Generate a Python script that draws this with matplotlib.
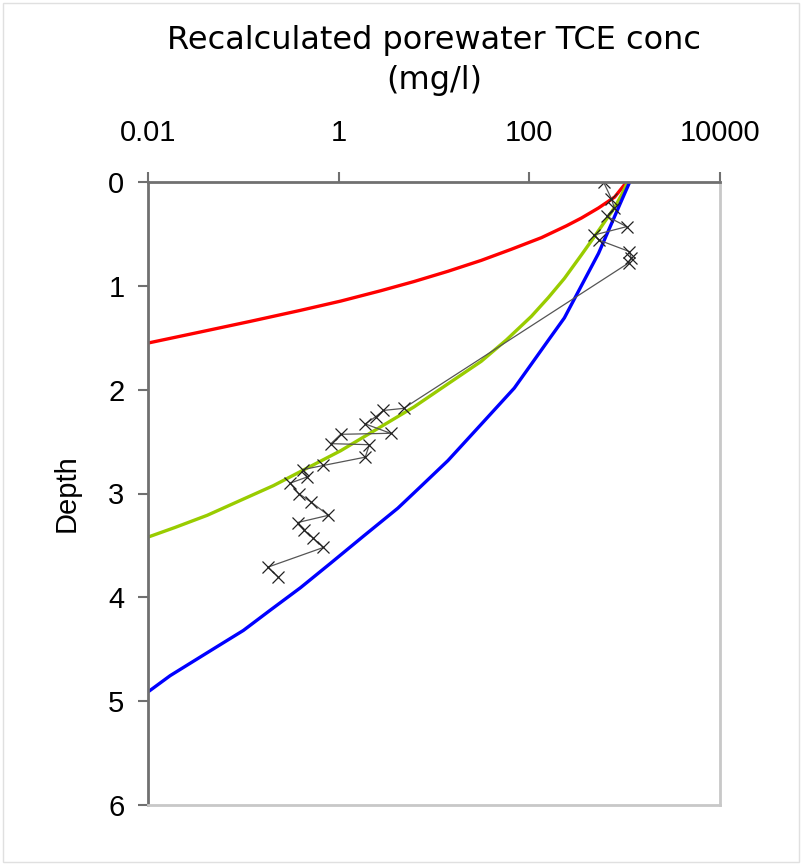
import numpy as np
import matplotlib
matplotlib.use('Agg')
import matplotlib.pyplot as plt

plt.rcParams['font.family'] = ['Liberation Sans', 'DejaVu Sans']

# model curves (concentration mg/l, depth)
red_conc = [1050, 785, 532, 352, 245, 134, 64.7, 31.3, 14.0, 6.15, 2.77, 1.05,
            0.398, 0.1186, 0.0352, 0.01]
red_depth = [0, 0.145, 0.250, 0.347, 0.422, 0.536, 0.648, 0.755, 0.860, 0.959, 1.047, 1.147,
             1.236, 1.342, 1.445, 1.551]

green_conc = [1076, 929, 785, 631, 483, 352, 233, 158, 105, 57.3, 31.3, 14.0, 6.15,
              2.77, 1.05, 0.472, 0.207, 0.0929, 0.0418, 0.0192, 0.01]
green_depth = [0, 0.123, 0.245, 0.370, 0.524, 0.702, 0.929, 1.114, 1.294, 1.522, 1.727,
               1.944, 2.167, 2.357, 2.588, 2.753, 2.924, 3.067, 3.210, 3.327, 3.42]

blue_conc = [1130, 929, 729, 532, 352, 233, 158, 105, 69.5, 31.3, 14.0, 7.29, 4.18,
             1.83, 0.824, 0.398, 0.192, 0.1, 0.0532, 0.0277, 0.0171, 0.01]
blue_depth = [0, 0.177, 0.399, 0.687, 0.998, 1.309, 1.525, 1.754, 1.985, 2.333, 2.683,
              2.931, 3.141, 3.409, 3.671, 3.907, 4.123, 4.319, 4.474, 4.635, 4.754,
              4.911]

# measured porewater data
obs_conc = [600, 725, 780, 650, 1050, 480, 540, 1120, 1170, 1100,
            4.8, 2.95, 2.45, 1.9, 3.5, 1.05, 0.83, 2.1, 1.9, 0.69,
            0.42, 0.47, 0.31, 0.38, 0.51, 0.78, 0.37, 0.43, 0.54, 0.69,
            0.18, 0.23]
obs_depth = [0, 0.16, 0.25, 0.33, 0.43, 0.51, 0.56, 0.67, 0.73, 0.78,
             2.18, 2.20, 2.26, 2.33, 2.42, 2.43, 2.52, 2.53, 2.65, 2.73,
             2.77, 2.84, 2.90, 3.00, 3.08, 3.21, 3.28, 3.35, 3.43, 3.52,
             3.71, 3.80]

fig = plt.figure(figsize=(8.02, 8.65), dpi=100)
ax = fig.add_axes([148/802, 1-805/865, (720-148)/802, (805-182)/865])

ax.plot(red_conc, red_depth, color='#ff0000', linewidth=2.4)
ax.plot(green_conc, green_depth, color='#99cc00', linewidth=2.4)
ax.plot(blue_conc, blue_depth, color='#0000ff', linewidth=2.4)
ax.plot(obs_conc, obs_depth, color='#555555', linewidth=0.9, marker='x',
        markersize=9, markeredgecolor='#222222', markeredgewidth=0.9)

ax.set_xscale('log')
ax.set_xlim(0.01, 10000)
ax.set_ylim(6, 0)
ax.set_xticks([0.01, 1, 100, 10000])
ax.set_xticklabels(['0.01', '1', '100', '10000'])
ax.minorticks_off()
ax.set_yticks(range(7))
ax.xaxis.tick_top()
ax.tick_params(axis='x', which='both', direction='out', length=7, width=1.5,
               color='#707070', labelsize=21, pad=18)
ax.tick_params(axis='y', direction='out', length=7, width=1.5,
               color='#707070', labelsize=21, pad=10)

for s in ('top', 'left'):
    ax.spines[s].set_color('#707070')
    ax.spines[s].set_linewidth(2)
for s in ('right', 'bottom'):
    ax.spines[s].set_color('#c8c8c8')
    ax.spines[s].set_linewidth(2)

ax.set_ylabel('Depth', fontsize=21, labelpad=20)
fig.text(434/802, 1-40/865, 'Recalculated porewater TCE conc', ha='center',
         va='center', fontsize=23, family=['DejaVu Sans'])
fig.text(434/802, 1-81/865, '(mg/l)', ha='center', va='center', fontsize=23,
         family=['DejaVu Sans'])

fig.patches.append(plt.Rectangle((0.004, 0.004), 0.992, 0.992, transform=fig.transFigure,
                                 fill=False, edgecolor='#e0e0e0', linewidth=1))

fig.savefig('out.png', dpi=100)
